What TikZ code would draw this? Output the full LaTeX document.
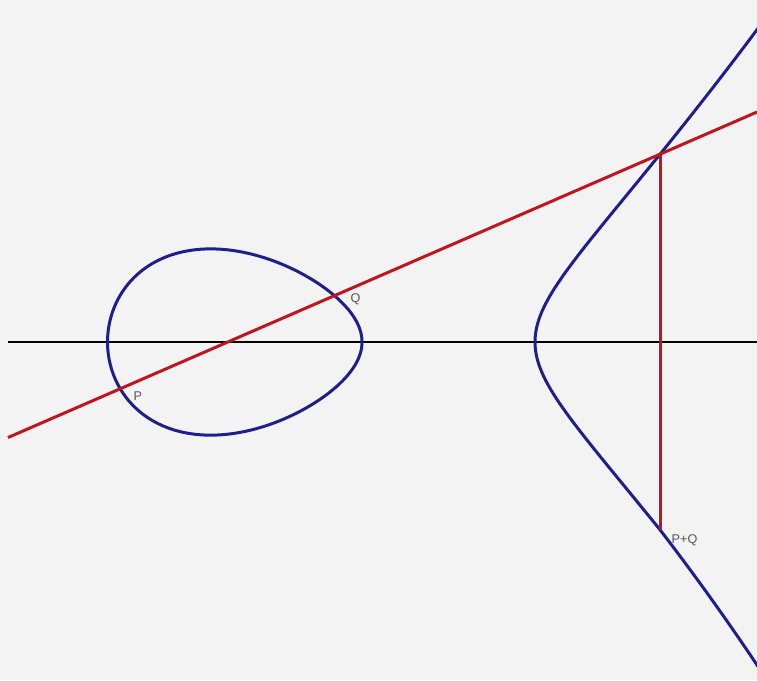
\documentclass[tikz,border=0pt]{standalone}
\usepackage{fontspec}
\setsansfont{Liberation Sans}
\begin{document}
\begin{tikzpicture}[
  curve/.style={draw=curveblue, line width=0.85pt},
  axisline/.style={draw=black, line width=0.6pt},
  chord/.style={draw=chordred, line width=0.85pt},
  lbl/.style={text=labelgray, font=\sffamily\fontsize{3.6}{4}\selectfont, inner sep=0pt}
]
\definecolor{curveblue}{HTML}{1E1E8C}
\definecolor{chordred}{HTML}{C0141E}
\definecolor{labelgray}{HTML}{555555}
\definecolor{paper}{HTML}{F3F3F3}
\fill[paper] (0,-3.38) rectangle (7.57,3.42);
\useasboundingbox (0,-3.38) rectangle (7.57,3.42);
\clip (0,-3.38) rectangle (7.57,3.42);
% axis
\coordinate (A0) at (0.08,0);
\coordinate (A1) at (7.57,0);
\draw[axisline] (A0) -- (A1);
% oval component
\draw[curve] plot[domain=0:360, samples=240, smooth, variable=\t]
  ({1.075+2.545*(1-cos(\t))/2},
   {1.2725*sin(\t)*sqrt(0.1713*(5.35-(1.075+2.545*(1-cos(\t))/2)))});
% unbounded component
\draw[curve] plot[domain=-1.58:1.56, samples=200, smooth, variable=\s]
  ({5.35+\s*\s},
   {\s*sqrt(0.1713*(5.35+\s*\s-1.075)*(5.35+\s*\s-3.62))*(\s<0 ? 1+0.035*max(0,\s*\s-1.25) : 1)});
% points
\coordinate (P) at (1.2175,-0.4931);
\coordinate (Q) at (3.3675,0.4443);
\coordinate (R) at (6.601,1.879);
\coordinate (PQ) at (6.601,-1.879);
\coordinate (L0) at (0.08,-0.955);
\coordinate (L1) at (7.57,2.300);
% chord and vertical
\draw[chord] (L0) -- (L1);
\draw[chord] (R) -- (PQ);
% labels
\node[lbl, anchor=west] (lP) at (1.33,-0.54) {P};
\node[lbl, anchor=west] (lQ) at (3.50,0.43) {Q};
\node[lbl, anchor=west] (lPQ) at (6.71,-1.98) {P+Q};
\end{tikzpicture}
\end{document}
